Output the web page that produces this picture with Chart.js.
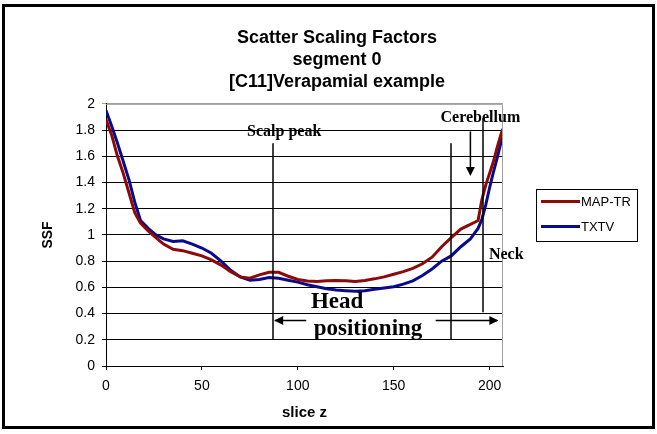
<!DOCTYPE html>
<html>
<head>
<meta charset="utf-8">
<script src="https://cdn.jsdelivr.net/npm/chart.js@4"></script>
<style>
html, body { margin: 0; padding: 0; background: #fff; }
#wrap { width: 657px; height: 434px; }
</style>
</head>
<body>
<div id="wrap"><canvas id="ssf-chart"></canvas></div>
<script>
const titleLines = ['Scatter Scaling Factors', 'segment 0', '[C11]Verapamial example'];

const sliceZ = [0, 3, 6, 9, 12, 15, 18, 22, 26, 30, 35, 40, 45, 50, 55, 60, 65, 70, 75, 80,
    85, 90, 95, 100, 105, 110, 115, 120, 125, 130, 135, 140, 145, 150, 155, 160, 165, 170,
    175, 180, 185, 190, 192, 194, 196, 198, 200, 202, 204, 206, 207];

const mapTr = [1.88, 1.76, 1.60, 1.47, 1.32, 1.17, 1.09, 1.03, 0.98, 0.93, 0.89, 0.88, 0.86,
    0.84, 0.81, 0.77, 0.72, 0.68, 0.67, 0.695, 0.715, 0.715, 0.685, 0.66, 0.648, 0.645, 0.65,
    0.652, 0.65, 0.645, 0.652, 0.665, 0.68, 0.70, 0.72, 0.745, 0.78, 0.83, 0.91, 0.98, 1.045,
    1.08, 1.095, 1.11, 1.27, 1.38, 1.47, 1.56, 1.67, 1.77, 1.81];

const txtv = [1.95, 1.83, 1.70, 1.56, 1.42, 1.25, 1.11, 1.05, 1.00, 0.97, 0.95, 0.955, 0.93,
    0.90, 0.86, 0.80, 0.73, 0.68, 0.655, 0.66, 0.675, 0.67, 0.655, 0.64, 0.62, 0.605, 0.59,
    0.58, 0.575, 0.57, 0.575, 0.585, 0.595, 0.605, 0.625, 0.65, 0.69, 0.74, 0.80, 0.84, 0.91,
    0.97, 1.01, 1.05, 1.12, 1.23, 1.36, 1.48, 1.59, 1.71, 1.75];

const sans = "'Liberation Sans', Arial, sans-serif";
const serif = "'Liberation Serif', 'Times New Roman', serif";
Chart.defaults.font.family = sans;
Chart.defaults.color = '#000';

function arrowHead(ctx, x, y, dir) {
    const len = 9, half = 4.5;
    ctx.beginPath();
    ctx.moveTo(x, y);
    if (dir === 'left') { ctx.lineTo(x + len, y - half); ctx.lineTo(x + len, y + half); }
    if (dir === 'right') { ctx.lineTo(x - len, y - half); ctx.lineTo(x - len, y + half); }
    if (dir === 'down') { ctx.lineTo(x - half, y - len); ctx.lineTo(x + half, y - len); }
    ctx.closePath();
    ctx.fill();
}

// notes written on the plot (positions in data units)
const overlay = {
    id: 'overlay',
    afterDatasetsDraw(chart) {
        const { ctx, chartArea: a, scales: { x, y } } = chart;
        const px = v => x.getPixelForValue(v);
        const py = v => y.getPixelForValue(v);
        ctx.save();
        // grey frame top / right
        ctx.strokeStyle = '#a0a0a0';
        ctx.lineWidth = 1;
        ctx.beginPath();
        ctx.moveTo(a.left, a.top + 0.5);
        ctx.lineTo(a.right - 0.5, a.top + 0.5);
        ctx.lineTo(a.right - 0.5, a.bottom);
        ctx.stroke();

        ctx.strokeStyle = '#000';
        ctx.fillStyle = '#000';
        ctx.lineWidth = 1.5;
        const vline = (xv, y0, y1) => {
            ctx.beginPath();
            ctx.moveTo(Math.round(px(xv)), py(y0));
            ctx.lineTo(Math.round(px(xv)), py(y1));
            ctx.stroke();
        };
        vline(87.2, 0.2, 1.7);
        vline(180, 0.2, 1.7);
        vline(196.8, 0.41, 1.89);

        // cerebellum arrow
        ctx.beginPath();
        ctx.moveTo(px(190), py(1.79));
        ctx.lineTo(px(190), py(1.47));
        ctx.stroke();
        arrowHead(ctx, px(190), py(1.45), 'down');

        // head positioning arrows
        const ay = Math.round(py(0.35)) + 0.5;
        ctx.beginPath();
        ctx.moveTo(px(88), ay);
        ctx.lineTo(px(104.4), ay);
        ctx.moveTo(px(171.9), ay);
        ctx.lineTo(px(204), ay);
        ctx.stroke();
        arrowHead(ctx, px(87.7), ay, 'left');
        arrowHead(ctx, px(204.6), ay, 'right');

        ctx.textAlign = 'center';
        ctx.textBaseline = 'alphabetic';
        ctx.font = 'bold 16px ' + serif;
        ctx.fillText('Scalp peak', px(92.9), py(1.758));
        ctx.fillText('Cerebellum', px(195.2), py(1.865));
        ctx.fillText('Neck', px(208.7), py(0.817));
        ctx.font = 'bold 23px ' + serif;
        ctx.fillText('Head', px(120.5), py(0.443));
        ctx.fillText('positioning', px(136.6), py(0.237));
        ctx.restore();
    },
    afterDraw(chart) {
        const { ctx, chartArea: a } = chart;
        ctx.save();
        // legend
        const lx = a.right + 33, ly = 189;
        ctx.strokeStyle = '#000';
        ctx.lineWidth = 1;
        ctx.strokeRect(lx + 0.5, ly + 0.5, 101, 52);
        ctx.font = '13px ' + sans;
        ctx.textBaseline = 'middle';
        chart.data.datasets.forEach((ds, i) => {
            const yy = ly + 12.5 + i * 25;
            ctx.strokeStyle = ds.borderColor;
            ctx.lineWidth = 3;
            ctx.beginPath();
            ctx.moveTo(lx + 5, yy);
            ctx.lineTo(lx + 44, yy);
            ctx.stroke();
            ctx.fillStyle = '#000';
            ctx.fillText(ds.label, lx + 45, yy + 1);
        });
        // outer frame
        ctx.strokeStyle = '#000';
        ctx.lineWidth = 3;
        ctx.strokeRect(3.5, 5.5, 650, 422);
        ctx.restore();
    }
};

new Chart(document.getElementById('ssf-chart'), {
    type: 'line',
    data: {
        datasets: [{
            label: 'MAP-TR',
            data: sliceZ.map((z, i) => ({ x: z, y: mapTr[i] })),
            borderColor: '#8c0a0a',
            borderWidth: 3,
            pointRadius: 0,
            fill: false
        }, {
            label: 'TXTV',
            data: sliceZ.map((z, i) => ({ x: z, y: txtv[i] })),
            borderColor: '#0a0a8c',
            borderWidth: 3,
            pointRadius: 0,
            fill: false
        }]
    },
    options: {
        responsive: true,
        maintainAspectRatio: false,
        animation: false,
        layout: { padding: { left: 17, right: 0, top: 0, bottom: 0 } },
        plugins: {
            legend: { display: false },
            tooltip: { enabled: false },
            title: {
                display: true,
                text: titleLines,
                color: '#000',
                font: { size: 18, weight: 'bold', lineHeight: 1.22 },
                padding: { top: 27, bottom: 11 }
            }
        },
        scales: {
            x: {
                type: 'linear',
                min: 0,
                max: 207,
                ticks: { stepSize: 50, includeBounds: false, padding: 8, font: { size: 14 }, color: '#000' },
                grid: { drawOnChartArea: false, color: '#000', tickLength: 4 },
                border: { color: '#000', width: 1 },
                title: { display: true, text: 'slice z', font: { size: 15, weight: 'bold' }, padding: { top: 4, bottom: 12 } },
                afterFit: s => { s.height = 68; }
            },
            y: {
                min: 0,
                max: 2,
                ticks: {
                    stepSize: 0.2, padding: 7, font: { size: 14 }, color: '#000',
                    callback: v => String(Math.round(v * 10) / 10)
                },
                grid: { color: c => (c.tick && c.tick.value === 2 ? '#a0a0a0' : '#000'), tickLength: 4 },
                border: { color: '#000', width: 1 },
                title: { display: true, text: 'SSF', font: { size: 14, weight: 'bold' }, padding: { top: 23 } },
                afterFit: s => { s.width = 89; }
            },
            spacer: {
                position: 'right',
                display: true,
                grid: { display: false },
                ticks: { display: false },
                border: { display: false },
                afterFit: s => { s.width = 154; }
            }
        }
    },
    plugins: [overlay]
});
</script>
</body>
</html>
